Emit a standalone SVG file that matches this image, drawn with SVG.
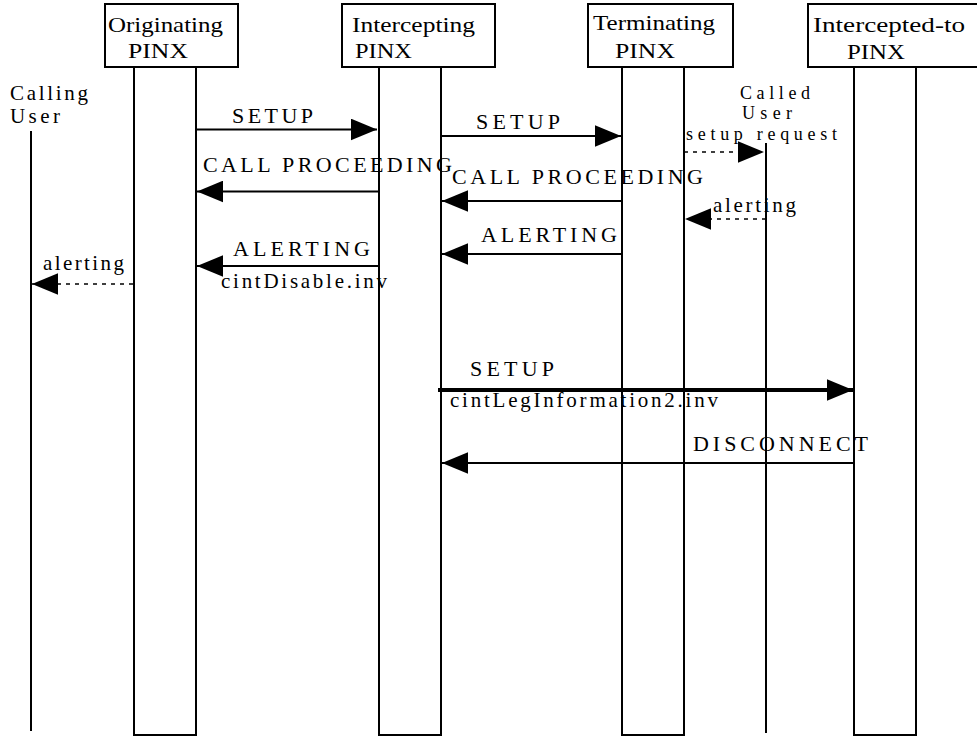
<svg xmlns="http://www.w3.org/2000/svg" width="977" height="737" viewBox="0 0 977 737">
<defs>
<style>
.box{fill:#fff;stroke:#000;stroke-width:2}
.bar{fill:none;stroke:#000;stroke-width:2}
.life{stroke:#000;stroke-width:2;fill:none}
.msg{stroke:#000;stroke-width:2;fill:none;marker-end:url(#ah)}
.thick{stroke-width:4}
.dash{stroke-width:1.5;stroke-dasharray:4 5}
text{font-family:"Liberation Serif","Times New Roman",serif;fill:#000}
.t22{font-size:22px}
.t20{font-size:22px}
.t19{font-size:21px}
.t18{font-size:18px}
</style>
<marker id="ah" markerUnits="userSpaceOnUse" markerWidth="26" markerHeight="22" viewBox="0 0 24 20" refX="24" refY="10" orient="auto">
<path d="M0,0 L24,10 L0,20 Z" fill="#000"/>
</marker>
</defs>

<g id="originating">
<rect class="box" x="105" y="4" width="133" height="63"/>
<text class="t22" x="108" y="32" textLength="115" lengthAdjust="spacingAndGlyphs">Originating</text>
<text class="t22" x="128" y="58" textLength="60" lengthAdjust="spacingAndGlyphs">PINX</text>
<rect class="bar" x="134" y="67" width="62" height="668"/>
</g>

<g id="intercepting">
<rect class="box" x="342" y="4" width="153" height="63"/>
<text class="t22" x="352" y="32" textLength="123" lengthAdjust="spacingAndGlyphs">Intercepting</text>
<text class="t22" x="355" y="58" textLength="57" lengthAdjust="spacingAndGlyphs">PINX</text>
<rect class="bar" x="379" y="67" width="62" height="668"/>
</g>

<g id="terminating">
<rect class="box" x="588" y="4" width="145" height="63"/>
<text class="t22" x="593" y="30" textLength="122" lengthAdjust="spacingAndGlyphs">Terminating</text>
<text class="t22" x="615" y="58" textLength="60" lengthAdjust="spacingAndGlyphs">PINX</text>
<rect class="bar" x="622" y="67" width="62" height="668"/>
</g>

<g id="interceptedto">
<rect class="box" x="808" y="4" width="190" height="63"/>
<text class="t22" x="813" y="32" textLength="152" lengthAdjust="spacingAndGlyphs">Intercepted-to</text>
<text class="t22" x="847" y="59" textLength="58" lengthAdjust="spacingAndGlyphs">PINX</text>
<rect class="bar" x="854" y="67" width="62" height="668"/>
</g>

<g id="callinguser">
<text class="t19" x="10" y="100" textLength="78" lengthAdjust="spacing">Calling</text>
<text class="t19" x="10" y="123" textLength="50" lengthAdjust="spacing">User</text>
<line class="life" x1="31" y1="131" x2="31" y2="731"/>
</g>

<g id="calleduser">
<text class="t18" x="740" y="99" textLength="70" lengthAdjust="spacing">Called</text>
<text class="t18" x="742" y="119" textLength="50" lengthAdjust="spacing">User</text>
<line class="life" x1="766" y1="143" x2="766" y2="733"/>
</g>

<g id="connectors">
<line class="msg" x1="196" y1="129.5" x2="377" y2="129.5"/>
<text class="t20" x="232" y="123" textLength="81" lengthAdjust="spacing">SETUP</text>

<line class="msg" x1="441" y1="136" x2="621" y2="136"/>
<text class="t20" x="476" y="129" textLength="84" lengthAdjust="spacing">SETUP</text>

<line class="msg dash" x1="684" y1="152" x2="764" y2="152"/>
<text class="t18" x="686" y="140" textLength="151" lengthAdjust="spacing">setup request</text>

<line class="msg" x1="378" y1="191.5" x2="197" y2="191.5"/>
<text class="t20" x="203" y="172" textLength="249" lengthAdjust="spacing">CALL PROCEEDING</text>

<line class="msg" x1="622" y1="201" x2="442" y2="201"/>
<text class="t20" x="452" y="184" textLength="251" lengthAdjust="spacing">CALL PROCEEDING</text>

<line class="msg dash" x1="766" y1="219" x2="685" y2="219"/>
<text class="t19" x="713" y="212" textLength="83" lengthAdjust="spacing">alerting</text>

<line class="msg" x1="622" y1="254" x2="442" y2="254"/>
<text class="t20" x="481" y="242" textLength="136" lengthAdjust="spacing">ALERTING</text>

<line class="msg" x1="378" y1="266" x2="197" y2="266"/>
<text class="t20" x="233" y="256" textLength="137" lengthAdjust="spacing">ALERTING</text>
<text class="t19" x="221" y="288" textLength="166" lengthAdjust="spacing">cintDisable.inv</text>

<line class="msg dash" x1="133" y1="284" x2="32" y2="284"/>
<text class="t19" x="43" y="270" textLength="81" lengthAdjust="spacing">alerting</text>

<line class="msg thick" x1="438" y1="390" x2="853" y2="390"/>
<text class="t20" x="470" y="376" textLength="84" lengthAdjust="spacing">SETUP</text>
<text class="t19" x="450" y="407" textLength="268" lengthAdjust="spacing">cintLegInformation2.inv</text>

<line class="msg" x1="854" y1="463" x2="442" y2="463"/>
<text class="t20" x="693" y="451" textLength="175" lengthAdjust="spacing">DISCONNECT</text>
</g>
</svg>
